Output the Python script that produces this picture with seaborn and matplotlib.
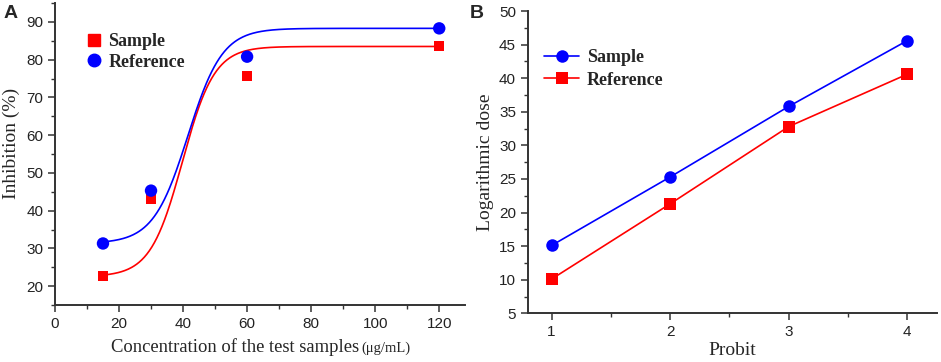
import numpy as np
import pandas as pd
import matplotlib
matplotlib.use("Agg")
import matplotlib.pyplot as plt
import seaborn as sns
from matplotlib.ticker import MultipleLocator
from matplotlib.lines import Line2D

# Panel A: inhibition vs concentration
conc = [15, 30, 60, 120]
inhib_sample = [22.7, 43.0, 75.7, 83.6]
inhib_reference = [31.3, 45.3, 80.8, 88.3]

# Boltzmann fit parameters (bottom, top, x0, dx)
fit_sample = (22.5, 83.5, 39.8, 5.0)
fit_reference = (31.3, 88.3, 41.5, 5.4)

# Panel B: logarithmic dose vs probit
probit = [1, 2, 3, 4]
dose_sample = [15.1, 25.3, 35.8, 45.6]
dose_reference = [10.1, 21.3, 32.8, 40.6]

RED = "#ff0000"
BLUE = "#0000ff"

sns.set_style("ticks")
plt.rcParams['font.family'] = ['Liberation Sans', 'DejaVu Sans']
serif = ['Liberation Serif', 'DejaVu Serif']


def boltzmann(x, p):
    a1, a2, x0, dx = p
    return a2 + (a1 - a2) / (1 + np.exp((x - x0) / dx))


fig = plt.figure(figsize=(9.41, 3.62), dpi=100)
axA = fig.add_axes([0.0584, 0.1575, 0.4356, 0.834])
axB = fig.add_axes([0.561, 0.1345, 0.4347, 0.835])

# ---- panel A
xs = np.linspace(15, 120, 400)
curveA = pd.DataFrame({
    'x': np.concatenate([xs, xs]),
    'y': np.concatenate([boltzmann(xs, fit_sample), boltzmann(xs, fit_reference)]),
    'series': ['Sample'] * len(xs) + ['Reference'] * len(xs),
})
sns.lineplot(data=curveA, x='x', y='y', hue='series',
             palette={'Sample': RED, 'Reference': BLUE},
             linewidth=1.2, legend=False, ax=axA)
sns.scatterplot(x=conc, y=inhib_sample, marker='s', color=RED, s=55,
                edgecolor='none', ax=axA, zorder=3)
sns.scatterplot(x=conc, y=inhib_reference, marker='o', color=BLUE, s=80,
                edgecolor='none', ax=axA, zorder=3)

axA.set_xlim(0, 128)
axA.set_ylim(15, 95)
axA.xaxis.set_major_locator(MultipleLocator(20))
axA.xaxis.set_minor_locator(MultipleLocator(10))
axA.yaxis.set_major_locator(MultipleLocator(10))
axA.yaxis.set_minor_locator(MultipleLocator(5))
axA.set_yticks(range(20, 91, 10))
axA.set_xlabel('')
axA.set_ylabel('Inhibition (%)', family=serif, fontsize=14)
axA.yaxis.set_label_coords(-0.085, 0.535)

handlesA = [
    Line2D([], [], marker='s', color=RED, linestyle='none', markersize=8),
    Line2D([], [], marker='o', color=BLUE, linestyle='none', markersize=9),
]
axA.legend(handlesA, ['Sample', 'Reference'], loc='upper left',
           bbox_to_anchor=(0.038, 0.955), frameon=False, handlelength=0.8,
           handletextpad=0.4, labelspacing=0.2,
           prop={'family': serif, 'weight': 'bold', 'size': 13})

fig.text(0.3815, 0.027, 'Concentration of the test samples', family=serif,
         fontsize=13.4, ha='right', va='baseline')
fig.text(0.3845, 0.027, '(\u03bcg/mL)', family=serif, fontsize=10.5,
         ha='left', va='baseline')

# ---- panel B
dfB = pd.DataFrame({
    'probit': probit + probit,
    'dose': dose_sample + dose_reference,
    'series': ['Sample'] * 4 + ['Reference'] * 4,
})
sns.lineplot(data=dfB, x='probit', y='dose', hue='series', style='series',
             palette={'Sample': BLUE, 'Reference': RED},
             markers={'Sample': 'o', 'Reference': 's'},
             dashes=False, linewidth=1.2, markersize=9,
             markeredgewidth=0, ax=axB)
axB.set_xlim(0.8, 4.25)
axB.set_ylim(5, 50)
axB.xaxis.set_major_locator(MultipleLocator(1))
axB.xaxis.set_minor_locator(MultipleLocator(0.5))
axB.yaxis.set_major_locator(MultipleLocator(5))
axB.yaxis.set_minor_locator(MultipleLocator(2.5))
axB.set_xlabel('Probit', family=serif, fontsize=14, labelpad=2)
axB.set_ylabel('Logarithmic dose', family=serif, fontsize=14, labelpad=4)
leg = axB.legend(loc='upper left', bbox_to_anchor=(0.0, 0.927), frameon=False,
                 handlelength=1.95, handletextpad=0.4, labelspacing=0.3,
                 prop={'family': serif, 'weight': 'bold', 'size': 13})

for ax in (axA, axB):
    sns.despine(ax=ax)
    for s in ('left', 'bottom'):
        ax.spines[s].set_linewidth(1.4)
        ax.spines[s].set_color('#333333')
    ax.tick_params(which='major', length=5, width=1.1, labelsize=11,
                   direction='out', color='#333333', labelcolor='#222222')
    ax.tick_params(which='minor', length=3, width=1.0, direction='out',
                   color='#333333')

fig.text(0.004, 0.985, 'A', fontsize=14, fontweight='bold', va='top')
fig.text(0.499, 0.985, 'B', fontsize=14, fontweight='bold', va='top')

fig.savefig('out.png', dpi=100)
